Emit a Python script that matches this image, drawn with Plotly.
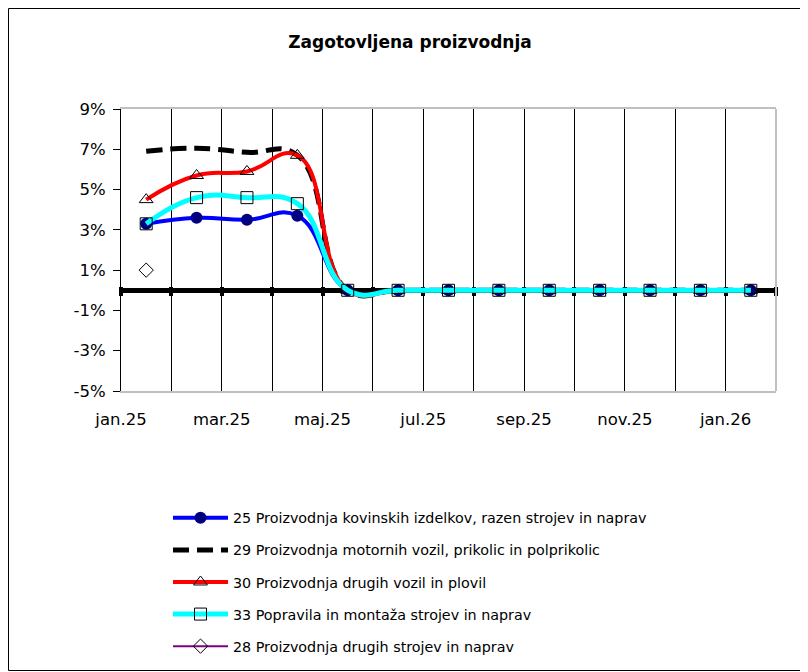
import plotly.graph_objects as go

# Months (category axis), one value per month, in %
months = ["jan.25", "feb.25", "mar.25", "apr.25", "maj.25", "jun.25", "jul.25",
          "avg.25", "sep.25", "okt.25", "nov.25", "dec.25", "jan.26"]

s25 = [3.3, 3.6, 3.5, 3.7, 0.0, 0.0, 0.0, 0.0, 0.0, 0.0, 0.0, 0.0, 0.0]
s29 = [6.9, 7.05, 6.85, 6.7, 0.0, 0.0, 0.0, 0.0, 0.0, 0.0, 0.0, 0.0, 0.0]
s30 = [4.5, 5.7, 5.9, 6.7, 0.0, 0.0, 0.0, 0.0, 0.0, 0.0, 0.0, 0.0, 0.0]
s33 = [3.3, 4.6, 4.6, 4.3, 0.0, 0.0, 0.0, 0.0, 0.0, 0.0, 0.0, 0.0, 0.0]
s28 = [1.0, None, None, None, None, None, None, None, None, None, None, None, None]

names = ["25 Proizvodnja kovinskih izdelkov, razen strojev in naprav",
         "29 Proizvodnja motornih vozil, prikolic in polprikolic",
         "30 Proizvodnja drugih vozil in plovil",
         "33 Popravila in montaža strojev in naprav",
         "28 Proizvodnja drugih strojev in naprav"]

y_ticks = [-5, -3, -1, 1, 3, 5, 7, 9]
y_tick_labels = ["-5%", "-3%", "-1%", "1%", "3%", "5%", "7%", "9%"]

# page puts the figure 8px in from the top-left corner
W, H = 800, 664
ML, MR, MT, MB = 113, 32, 101, 281
PW, PH = W - ML - MR, H - MT - MB

# data points sit in the middle of each month slot
x = [i + 0.5 for i in range(len(months))]

TXT = "DejaVu Sans"
SM = 1.3

fig = go.Figure()

fig.add_trace(go.Scatter(
    x=x, y=s25, name=names[0], mode="lines+markers", legendgroup="a",
    line=dict(color="#0000FF", width=4, shape="spline", smoothing=SM),
    marker=dict(symbol="circle", size=12, color="#000080", line=dict(width=0))))
fig.add_trace(go.Scatter(
    x=x, y=s29, name=names[1], mode="lines", legendgroup="b",
    line=dict(color="#000000", width=5, dash="16px,8px", shape="spline", smoothing=SM)))
fig.add_trace(go.Scatter(
    x=x, y=s30, name=names[2], mode="lines+markers", legendgroup="c",
    line=dict(color="#FF0000", width=4, shape="spline", smoothing=SM),
    marker=dict(symbol="triangle-up-open", size=12, color="#000000", line=dict(width=1))))
fig.add_trace(go.Scatter(
    x=x, y=s33, name=names[3], mode="lines+markers", legendgroup="d",
    line=dict(color="#00FFFF", width=5, shape="spline", smoothing=SM),
    marker=dict(symbol="square-open", size=12, color="#000000", line=dict(width=1))))
fig.add_trace(go.Scatter(
    x=x, y=s28, name=names[4], mode="lines+markers", legendgroup="e",
    line=dict(color="#800080", width=2, shape="spline", smoothing=SM),
    marker=dict(symbol="diamond-open", size=11, color="#000000", line=dict(width=1))))

# empty trace so the overlay axis carrying the zero-line tick marks gets drawn
fig.add_trace(go.Scatter(x=[], y=[], xaxis="x2", yaxis="y", showlegend=False,
                         hoverinfo="skip"))

tick_pos = list(range(len(months)))
tick_text = [m if i % 2 == 0 else "" for i, m in enumerate(months)]

# extra unit offset so the overlay ticks straddle the zero line
off = 4.5 / (PH / 14.0)

fig.update_layout(
    width=W, height=H,
    margin=dict(l=ML, r=MR, t=MT, b=MB, autoexpand=False),
    paper_bgcolor="white", plot_bgcolor="white",
    font=dict(family=TXT, size=16, color="black"),
    title=dict(text="<b>Zagotovljena proizvodnja</b>", x=402 / W, xref="container",
               xanchor="center", y=1 - 34 / H, yref="container", yanchor="middle",
               font=dict(family="DejaVu Sans", size=17, color="black")),
    xaxis=dict(range=[0, len(months)], tickvals=tick_pos, ticktext=tick_text,
               showgrid=True, gridcolor="black", gridwidth=1, zeroline=False,
               showline=True, linecolor="#C0C0C0", linewidth=2, mirror=True,
               ticks="", tickfont=dict(size=16.5), ticklabelstandoff=12),
    xaxis2=dict(overlaying="x", anchor="free", position=(5 + off) / 14.0,
                range=[0, len(months)], tickvals=list(range(len(months) + 1)),
                showticklabels=False, showgrid=False, zeroline=False, showline=False,
                ticks="outside", ticklen=9, tickwidth=4, tickcolor="black",
                layer="below traces"),
    yaxis=dict(range=[-5, 9], tickvals=y_ticks, ticktext=y_tick_labels,
               showgrid=False, zeroline=True, zerolinecolor="black", zerolinewidth=5,
               showline=True, linecolor="black", linewidth=1,
               ticks="outside", ticklen=7, tickcolor="black",
               tickfont=dict(size=16.5), ticklabelstandoff=4),
    legend=dict(x=(160 - ML) / PW, y=(MB - 110) / PH - 1, xanchor="left", yanchor="top",
                font=dict(family=TXT, size=14.3), itemwidth=55, tracegroupgap=10.5,
                bgcolor="rgba(0,0,0,0)"),
    shapes=[dict(type="line", xref="paper", yref="paper", x0=1, x1=1, y0=0, y1=1,
                 line=dict(color="#C0C0C0", width=2)),
            dict(type="rect", xref="paper", yref="paper",
                 x0=-(ML - 0.5) / PW, x1=1 + (MR - 1.5) / PW,
                 y0=-(MB - 1.5) / PH, y1=1 + (MT - 0.5) / PH,
                 line=dict(color="black", width=1))],
)

fig.write_html("out.html")
